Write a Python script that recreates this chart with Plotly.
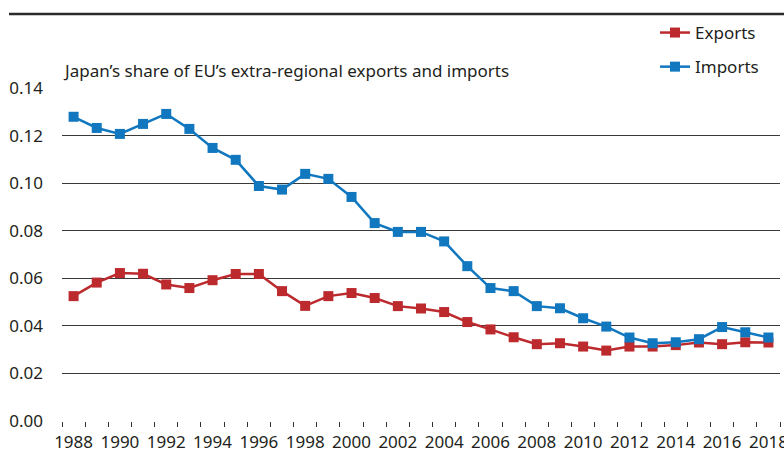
import plotly.graph_objects as go

years = list(range(1988, 2019))
exports = [0.0525, 0.0582, 0.0622, 0.0619, 0.0574, 0.0559, 0.0592, 0.0618, 0.0618, 0.0546,
           0.0484, 0.0525, 0.0538, 0.0517, 0.0483, 0.0473, 0.0458, 0.0416, 0.0385, 0.0352,
           0.0323, 0.0327, 0.0313, 0.0296, 0.0313, 0.0313, 0.0319, 0.0330, 0.0323, 0.0331, 0.0330]
imports = [0.1279, 0.1232, 0.1207, 0.1249, 0.1291, 0.1228, 0.1148, 0.1098, 0.0988, 0.0973,
           0.1039, 0.1018, 0.0942, 0.0832, 0.0795, 0.0795, 0.0755, 0.0651, 0.0559, 0.0546,
           0.0483, 0.0474, 0.0432, 0.0397, 0.0351, 0.0327, 0.0331, 0.0344, 0.0395, 0.0373, 0.0351]
y_ticks = [0.00, 0.02, 0.04, 0.06, 0.08, 0.10, 0.12, 0.14]
x_ticks = list(range(1988, 2019, 2))

FONT = "Noto Sans"
TXT = "#231F20"
RED = "#BC2A2E"
BLUE = "#1177BF"
FS = 17

W, H = 784, 453
L, R, T, B = 62, 4, 88, 32
pw, ph = W - L - R, H - T - B

def px_x(px):
    return (px - L) / pw

def px_y(py):
    return 1 + (T - py) / ph

fig = go.Figure()
fig.add_trace(go.Scatter(x=years, y=exports, name="Exports", mode="lines+markers",
                         line=dict(color=RED, width=2.5),
                         marker=dict(symbol="square", size=10, color=RED),
                         legendgroup="e"))
fig.add_trace(go.Scatter(x=years, y=imports, name="Imports", mode="lines+markers",
                         line=dict(color=BLUE, width=2.5),
                         marker=dict(symbol="square", size=10, color=BLUE),
                         legendgroup="i"))

fig.update_layout(
    width=W, height=H,
    margin=dict(l=L, r=R, t=T, b=B, autoexpand=False),
    paper_bgcolor="white", plot_bgcolor="white",
    font=dict(family=FONT, size=FS, color=TXT),
    showlegend=True,
    legend=dict(xref="container", yref="container", x=655 / W, y=1 - 15 / H,
                xanchor="left", yanchor="top", traceorder="grouped",
                tracegroupgap=9, font=dict(size=FS, color=TXT),
                bgcolor="rgba(0,0,0,0)", itemwidth=30),
    xaxis=dict(range=[1987.5, 2018.5], tickvals=x_ticks, ticktext=[str(v) for v in x_ticks],
               ticks="", showgrid=False, zeroline=False, showline=False,
               ticklabelstandoff=9, ticklabeloverflow="allow",
               minor=dict(tick0=1987.5, dtick=1, ticks="outside", ticklen=5,
                          tickcolor="#333333", tickwidth=1, showgrid=False),
               tickfont=dict(size=FS, color=TXT)),
    yaxis=dict(range=[0, 0.14], tickvals=y_ticks, ticktext=["%.2f" % v for v in y_ticks],
               showgrid=True, gridcolor="#3a3a3a", gridwidth=1.3, zeroline=False,
               showline=False, ticks="", ticklabelstandoff=18,
               tickfont=dict(size=FS, color=TXT)),
)

fig.add_shape(type="line", xref="paper", yref="paper",
              x0=px_x(9), x1=px_x(786), y0=px_y(14), y1=px_y(14),
              line=dict(color="#2b2b2b", width=2.5))

fig.add_annotation(xref="paper", yref="paper", x=px_x(61), y=px_y(70),
                   xanchor="left", yanchor="middle", showarrow=False,
                   text="Japan’s share of EU’s extra-regional exports and imports",
                   font=dict(size=FS, color=TXT))

fig.add_annotation(xref="paper", yref="paper", x=px_x(6), y=px_y(7),
                   xanchor="left", yanchor="bottom", showarrow=False,
                   text="1988–2018", font=dict(size=16, color=TXT))

fig.write_html("out.html", config={"displayModeBar": False},
               post_script="document.body.style.margin='0';document.body.style.overflow='hidden';")
